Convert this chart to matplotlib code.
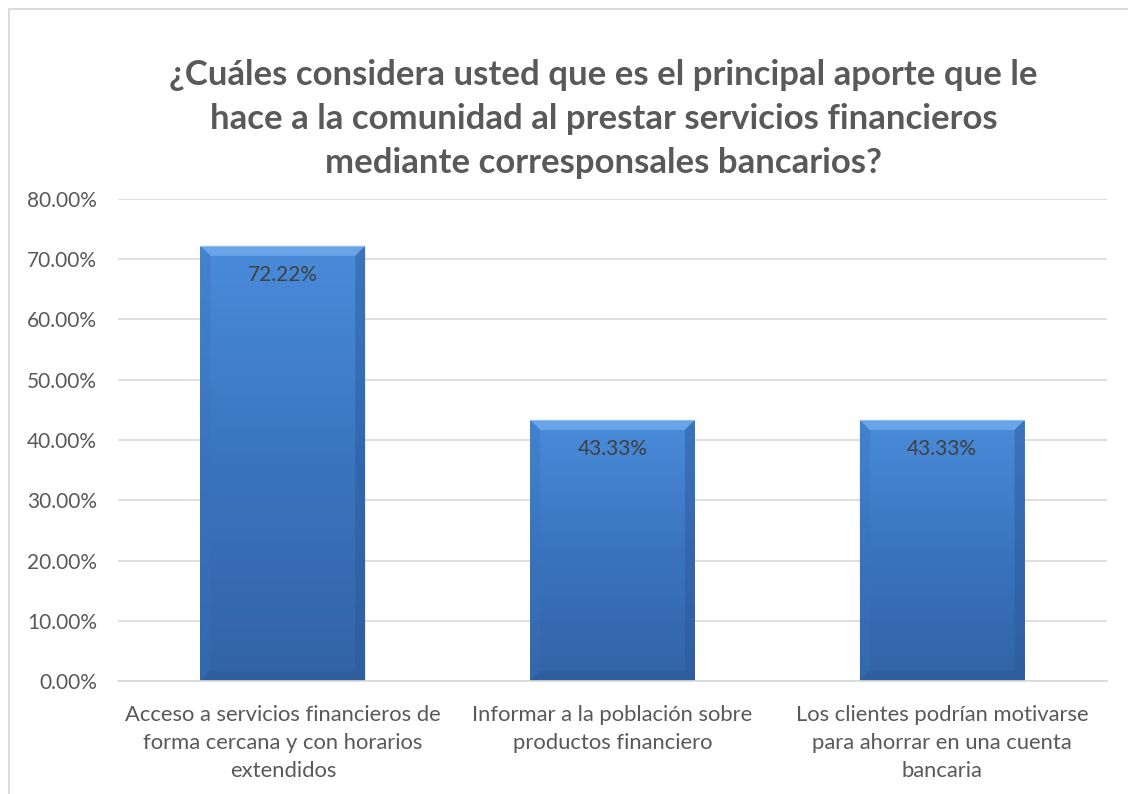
import numpy as np
import matplotlib
matplotlib.use("Agg")
import matplotlib.pyplot as plt
from matplotlib.patches import Polygon, Rectangle
from matplotlib.colors import LinearSegmentedColormap

plt.rcParams['font.family'] = ['Lato', 'DejaVu Sans']

categorias = ["Acceso a servicios financieros de\nforma cercana y con horarios\nextendidos",
              "Informar a la población sobre\nproductos financiero",
              "Los clientes podrían motivarse\npara ahorrar en una cuenta\nbancaria"]
valores = [0.7222, 0.4333, 0.4333]
etiquetas = ["72.22%", "43.33%", "43.33%"]
yticks = [0, 0.1, 0.2, 0.3, 0.4, 0.5, 0.6, 0.7, 0.8]

titulo = ("¿Cuáles considera usted que es el principal aporte que le\n"
          "hace a la comunidad al prestar servicios financieros\n"
          "mediante corresponsales bancarios?")

gris = "#595959"

fig = plt.figure(figsize=(11.28, 7.94), dpi=100)
# borde del area del grafico
fig.patches.append(Rectangle((9/1128, -0.1), 1.2, 1 - 9/794 + 0.1,
                             transform=fig.transFigure, fill=False,
                             edgecolor="#D9D9D9", linewidth=1.3))

ax = fig.add_axes([0.1046, 0.1423, 0.8768, 0.6071])
x = np.arange(len(valores))
ancho = 0.5
barras = ax.bar(x, valores, width=ancho, color="#3F7CC8", zorder=2)

ax.set_xlim(-0.5, 2.5)
ax.set_ylim(0, 0.8)

cmap = LinearSegmentedColormap.from_list("azul", ["#3263A5", "#3A74C0", "#4A8CDA"])
grad = np.linspace(0, 1, 256).reshape(-1, 1)

# tamano del bisel en unidades de datos (~10 px)
dx = 10 * 3 / 989
dy = 10 * 0.8 / 482

for b in barras:
    x0, w, h = b.get_x(), b.get_width(), b.get_height()
    x1 = x0 + w
    im = ax.imshow(grad, extent=[x0, x1, 0, h], origin="lower", cmap=cmap,
                   aspect="auto", zorder=2.1)
    im.set_clip_path(b)
    # bisel superior, laterales e inferior
    ax.add_patch(Polygon([(x0, h), (x1, h), (x1 - dx, h - dy), (x0 + dx, h - dy)],
                         closed=True, facecolor="#6AA4E8", edgecolor="none", zorder=2.2))
    ax.add_patch(Polygon([(x0, h), (x0 + dx, h - dy), (x0 + dx, dy), (x0, 0)],
                         closed=True, facecolor="#3A72BA", edgecolor="none", alpha=0.35, zorder=2.2))
    ax.add_patch(Polygon([(x1, h), (x1 - dx, h - dy), (x1 - dx, dy), (x1, 0)],
                         closed=True, facecolor="#2B5896", edgecolor="none", alpha=0.45, zorder=2.2))
    ax.add_patch(Polygon([(x0, 0), (x0 + dx, dy), (x1 - dx, dy), (x1, 0)],
                         closed=True, facecolor="#2C5995", edgecolor="none", alpha=0.45, zorder=2.2))
    ax.add_patch(Rectangle((x0, h - 0.0015), w, 0.0015, facecolor="#8CC0F5",
                           edgecolor="none", zorder=2.3))

for xi, v, t in zip(x, valores, etiquetas):
    ax.annotate(t, (xi, v), xytext=(0, -14), textcoords="offset points",
                ha="center", va="top", fontsize=15, color="#404040", zorder=3)

ax.set_yticks(yticks)
ax.set_yticklabels([f"{v*100:.2f}%" for v in yticks])
ax.set_xticks(x)
ax.set_xticklabels(categorias, linespacing=1.5)
ax.tick_params(axis="both", length=0, labelcolor=gris)
ax.tick_params(axis="y", pad=15, labelsize=15)
ax.tick_params(axis="x", pad=17, labelsize=15.8)

ax.grid(axis="y", color="#D9D9D9", linewidth=1.2, zorder=0)
ax.set_axisbelow(True)
for s in ["left", "right", "top"]:
    ax.spines[s].set_visible(False)
ax.spines["bottom"].set_color("#D9D9D9")
ax.spines["bottom"].set_linewidth(1.2)

fig.text(0.535, 0.850, titulo, ha="center", va="center", fontsize=25,
         fontweight="bold", color=gris, linespacing=1.45)

fig.savefig("out.png", dpi=100)
